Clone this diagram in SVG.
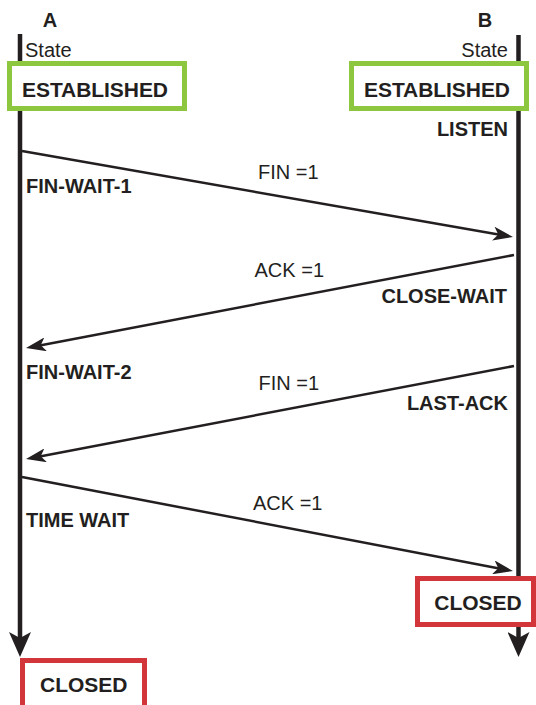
<svg xmlns="http://www.w3.org/2000/svg" width="536" height="705" viewBox="0 0 536 705">
  <style>
    .t { font-family: "Liberation Sans", Arial, sans-serif; fill: #231f20; }
    .b { font-weight: bold; font-size: 20px; }
    .r { font-size: 20px; }
    .box { font-weight: bold; font-size: 21px; }
    .life { stroke: #231f20; stroke-width: 4.5; fill: none; }
    .msg { stroke: #231f20; stroke-width: 2.5; fill: none; }
    .green { fill: #ffffff; stroke: #8dc63f; stroke-width: 5; }
    .red { fill: #ffffff; stroke: #d2363a; stroke-width: 5; }
  </style>
  <defs>
    <marker id="head" markerUnits="userSpaceOnUse" viewBox="0 0 20 14" markerWidth="20" markerHeight="14" refX="14" refY="7" orient="auto">
      <path d="M0,0 L20,7 L0,14 L5,7 z" fill="#231f20"/>
    </marker>
    <marker id="bighead" markerUnits="userSpaceOnUse" viewBox="0 0 25 22" markerWidth="25" markerHeight="22" refX="13" refY="11" orient="auto">
      <path d="M0,0 L25,11 L0,22 L6,11 z" fill="#231f20"/>
    </marker>
  </defs>

  <!-- host labels -->
  <text class="t b" x="50" y="27" text-anchor="middle">A</text>
  <text class="t b" x="485" y="27" text-anchor="middle">B</text>

  <!-- lifelines -->
  <g id="lifelines">
    <line class="life" x1="20" y1="34" x2="20" y2="645" marker-end="url(#bighead)"/>
    <line class="life" x1="518.5" y1="35" x2="518.5" y2="645" marker-end="url(#bighead)"/>
  </g>

  <text class="t r" x="25" y="57">State</text>
  <text class="t r" x="508" y="57" text-anchor="end">State</text>

  <g id="a-established">
    <rect class="green" x="9.5" y="63.5" width="175" height="45"/>
    <text class="t box" x="22" y="97" textLength="146">ESTABLISHED</text>
  </g>
  <g id="b-established">
    <rect class="green" x="351.5" y="63.5" width="175" height="45"/>
    <text class="t box" x="364" y="97" textLength="146">ESTABLISHED</text>
  </g>

  <!-- state labels -->
  <text class="t b" x="508" y="136" text-anchor="end">LISTEN</text>
  <text class="t b" x="26" y="193">FIN-WAIT-1</text>
  <text class="t b" x="507" y="303" text-anchor="end">CLOSE-WAIT</text>
  <text class="t b" x="26" y="379">FIN-WAIT-2</text>
  <text class="t b" x="508" y="410" text-anchor="end">LAST-ACK</text>
  <text class="t b" x="26" y="527">TIME WAIT</text>

  <!-- messages -->
  <g id="connectors">
    <line class="msg" x1="22" y1="151" x2="507.1" y2="236" marker-end="url(#head)"/>
    <line class="msg" x1="514" y1="255" x2="31.9" y2="346.9" marker-end="url(#head)"/>
    <line class="msg" x1="514" y1="366" x2="31.9" y2="457.9" marker-end="url(#head)"/>
    <line class="msg" x1="22" y1="477" x2="507.1" y2="569.9" marker-end="url(#head)"/>
  </g>
  <text class="t r" x="258" y="179">FIN =1</text>
  <text class="t r" x="324" y="277" text-anchor="end">ACK =1</text>
  <text class="t r" x="319" y="390" text-anchor="end">FIN =1</text>
  <text class="t r" x="253" y="510">ACK =1</text>

  <g id="b-closed">
    <rect class="red" x="417.5" y="578.5" width="116" height="46"/>
    <text class="t box" x="478" y="610" text-anchor="middle">CLOSED</text>
  </g>
  <g id="a-closed">
    <rect class="red" x="22.5" y="660.5" width="122" height="60"/>
    <text class="t box" x="40" y="692">CLOSED</text>
  </g>
</svg>
